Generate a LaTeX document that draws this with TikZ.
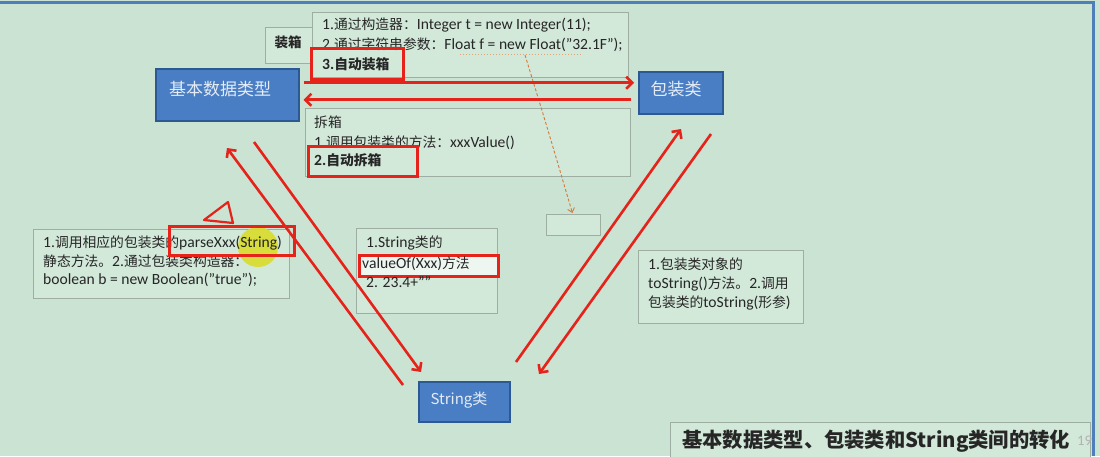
\documentclass[tikz,border=0pt]{standalone}
\usepackage{fontspec}
\setmainfont{Carlito}[Scale=1.13]
\newfontfamily\cjk{Noto Sans CJK SC}
\usetikzlibrary{arrows.meta}
\definecolor{bgc}{HTML}{CBE3D2}
\definecolor{boxfill}{HTML}{D2E8D9}
\definecolor{boxline}{HTML}{9EAEA2}
\definecolor{nodeblue}{HTML}{4A7EC4}
\definecolor{nodeedge}{HTML}{2C5894}
\definecolor{frameblue}{HTML}{4F7FB8}
\definecolor{redc}{HTML}{E5231B}
\definecolor{dashc}{HTML}{D47A3A}
\definecolor{hiyellow}{HTML}{D9DC2C}
\tikzset{
  bluebox/.style={draw=nodeedge, line width=1.5pt, fill=nodeblue, anchor=north west, inner sep=0pt},
  bluetext/.style={text=white!85!nodeblue, font=\cjk\fontsize{17}{19}\selectfont, inner sep=0pt},
  textbox/.style={draw=boxline, line width=0.8pt, fill=boxfill, anchor=north west, inner sep=0pt},
  redbox/.style={draw=redc, line width=2.6pt, anchor=north west, inner sep=0pt},
  txt/.style={anchor=west, inner sep=0pt, font=\fontsize{13.8}{15}\selectfont, text=black!85},
  redarrow/.style={draw=redc, line width=2.6pt, -{Straight Barb[length=6pt,width=12pt,line width=2.6pt]}},
  dasharrow/.style={draw=dashc, line width=0.9pt, dash pattern=on 3pt off 2pt, -{Straight Barb[length=4pt,width=7pt,line width=0.9pt]}}
}
\begin{document}
\begin{tikzpicture}[x=1pt,y=-1pt]
\useasboundingbox (0,0) rectangle (1100,456);
\fill[bgc] (0,0) rectangle (1100,456);
% frame
\draw[frameblue, line width=3pt] (0,2) -- (1093,2) -- (1093,456);

% main nodes
\node[bluebox, minimum width=143pt, minimum height=52pt] (basic) at (155,68) {};
\node[bluetext] (basict) at (220,89) {基本数据类型};
\node[bluebox, minimum width=84pt, minimum height=42pt] (pkg) at (638,71) {};
\node[bluetext] (pkgt) at (676,89) {包装类};
\node[bluebox, minimum width=91pt, minimum height=40pt] (str) at (418,381) {};
\node[bluetext, font=\fontsize{15}{17}\selectfont\cjk] (strt) at (459,400) {String类};

% boxing text box
\node[textbox, minimum width=47pt, minimum height=36pt] (zxlabel) at (265,27) {};
\node[txt, anchor=center, font=\cjk\bfseries\fontsize{13.5}{15}\selectfont] (zxt) at (288,42) {装箱};
\node[textbox, minimum width=316pt, minimum height=65pt] (topbox) at (312,12) {};
\node[txt] (t1) at (322,25) {1.{\cjk 通过构造器：}Integer t = new Integer(11);};
\node[txt] (t2) at (322,45) {2.{\cjk 通过字符串参数：}Float f = new Float("32.1F");};
\node[txt, font=\bfseries\fontsize{13.8}{15}\selectfont] (t3) at (322,64) {3.{\cjk\bfseries 自动装箱}};
\draw[dashc!70, line width=0.8pt, dash pattern=on 1pt off 2pt] (460,54) -- (582,54);
\node[redbox, minimum width=92pt, minimum height=31pt] (r1) at (310,47) {};

% unboxing text box
\node[textbox, minimum width=325pt, minimum height=68pt] (botbox) at (305,108) {};
\node[txt] (u0) at (314,122) {\cjk 拆箱};
\node[txt] (u1) at (314,143) {1.{\cjk 调用包装类的方法：}xxxValue()};
\node[txt, font=\bfseries\fontsize{13.8}{15}\selectfont] (u2) at (314,160) {2.{\cjk\bfseries 自动拆箱}};
\node[redbox, minimum width=109pt, minimum height=30pt] (r2) at (307,145) {};

% small empty box
\node[textbox, minimum width=54pt, minimum height=21pt] (small) at (546,214) {};
\coordinate (dstart) at (525,55);
\draw[dasharrow] (dstart) .. controls (548,130) .. ([xshift=-1pt,yshift=1pt]small.north);

% left text box
\node[textbox, minimum width=256pt, minimum height=69pt] (leftbox) at (33,229) {};
\fill[hiyellow, opacity=0.9] (258,247) circle (20);
\node[txt] (l1) at (43,243) {1.{\cjk 调用相应的包装类的}parseXxx(String)};
\node[txt] (l2) at (43,261) {{\cjk 静态方法。}2.{\cjk 通过包装类构造器：}};
\node[txt] (l3) at (43,280) {boolean b = new Boolean("true");};
\node[redbox, minimum width=125pt, minimum height=29pt] (r3) at (168,225) {};
\draw[redc, line width=2.2pt, line join=round] (228,202) -- (204,220) -- (233,223) -- cycle;

% middle text box
\node[textbox, minimum width=141pt, minimum height=85pt] (midbox) at (356,228) {};
\node[redbox, fill=white!60!boxfill, minimum width=139pt, minimum height=21pt] (r4) at (358,254) {};
\node[txt] (m1) at (366,243) {1.String{\cjk 类的}};
\node[txt] (m2) at (362,264) {valueOf(Xxx){\cjk 方法}};
\node[txt] (m3) at (366,282) {2. 23.4+""};

% right text box
\node[textbox, minimum width=165pt, minimum height=73pt] (rightbox) at (638,250) {};
\node[txt] (q1) at (648,264) {1.{\cjk 包装类对象的}};
\node[txt] (q2) at (648,284) {toString(){\cjk 方法。}2.{\cjk 调用}};
\node[txt] (q3) at (648,303) {{\cjk 包装类的}toString({\cjk 形参})};

% title
\node[textbox, minimum width=420pt, minimum height=40pt] (titlebox) at (670,422) {};
\node[txt, font=\cjk\bfseries\fontsize{20.3}{22}\selectfont] (title) at (682,441) {基本数据类型、包装类和String类间的转化};
\node[txt, font=\fontsize{13}{16}\selectfont, text=gray!60] (pnum) at (1077,441) {19};

% horizontal arrows
\draw[redarrow] ([xshift=4pt,yshift=12pt]basic.east) -- ([xshift=-4pt,yshift=10pt]pkg.west);
\draw[redarrow] ([xshift=-7pt,yshift=-7pt]pkg.west) -- ([xshift=4pt,yshift=-5pt]basic.east);

% diagonal arrows
\coordinate (d1s) at (403,385);
\coordinate (d1e) at (227,148);
\coordinate (d2s) at (254,142);
\coordinate (d2e) at (421,372);
\coordinate (d3s) at (516,362);
\coordinate (d3e) at (681,129);
\coordinate (d4s) at (711,134);
\coordinate (d4e) at (539,374);
\draw[redarrow] (d1s) -- (d1e);
\draw[redarrow] (d2s) -- (d2e);
\draw[redarrow] (d3s) -- (d3e);
\draw[redarrow] (d4s) -- (d4e);
\end{tikzpicture}
\end{document}
